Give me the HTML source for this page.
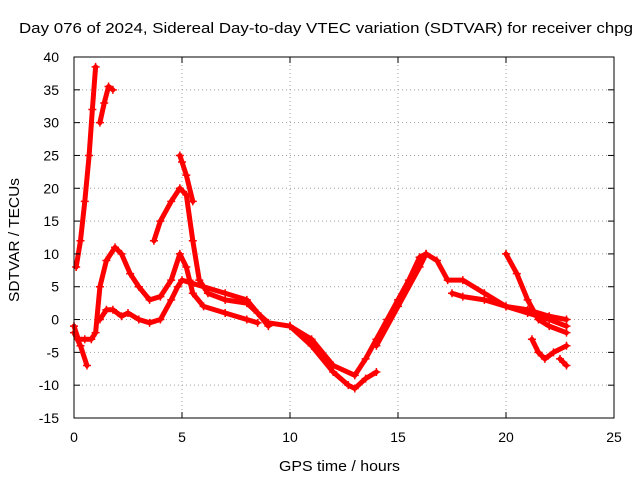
<!DOCTYPE html>
<html><head><meta charset="utf-8"><style>
body{margin:0;background:#fff;}
svg{display:block;font-family:"Liberation Sans",sans-serif;}
</style></head><body>
<svg id="chart" width="640" height="480" viewBox="0 0 640 480">
<rect width="640" height="480" fill="#fff"/>
<text x="19" y="33" font-size="15" textLength="614" lengthAdjust="spacingAndGlyphs">Day 076 of 2024, Sidereal Day-to-day VTEC variation (SDTVAR) for receiver chpg</text>
<g id="grid"></g>
<g id="series"></g>
<rect x="74" y="57" width="540" height="361" fill="none" stroke="#000" stroke-width="1"/>
<g id="ticks"></g>
<text x="279" y="471" font-size="15" textLength="121" lengthAdjust="spacingAndGlyphs">GPS time / hours</text>
<text x="0" y="0" font-size="15" textLength="124" lengthAdjust="spacingAndGlyphs" transform="translate(19 302) rotate(-90)">SDTVAR / TECUs</text>
</svg>
<script>
const xTicks=[0,5,10,15,20,25];
const yTicks=[-15,-10,-5,0,5,10,15,20,25,30,35,40];
const trackA=[[0.1,8],[0.3,12],[0.5,18],[0.7,25],[0.85,32],[1.0,38.5]];
const trackB=[[1.2,30],[1.4,33],[1.6,35.5],[1.8,35]];
const trackC=[[0,-1],[0.2,-3],[0.5,-3],[0.8,-3],[1.0,-2],[1.2,5],[1.5,9],[1.9,11],[2.2,10],[2.6,7],[3,5],[3.5,3],[4,3.5],[4.5,6],[4.9,10],[5.2,8],[5.5,4],[6,2],[7,1],[8,0],[8.5,-0.5]];
const trackD=[[3.7,12],[4,15],[4.5,18],[4.9,20],[5.2,19],[5.5,12],[5.8,6],[6.2,4],[7,3],[8,2.5],[9,-0.5],[10,-1],[11,-3],[12,-7],[13,-8.5],[13.5,-6],[14,-3],[14.5,0],[15,3],[15.5,6],[16,9.5],[16.3,10]];
const trackE=[[0,-2],[0.3,-4],[0.6,-7]];
const trackF=[[1.2,0],[1.5,1.5],[1.8,1.5],[2.2,0.5],[2.5,1],[3,0],[3.5,-0.5],[4,0],[4.5,3],[4.8,5],[5,6],[5.5,5.5],[6,5],[7,4],[8,3],[8.5,1],[9,-1]];
const trackG=[[4.9,25],[5,24],[5.2,22],[5.5,18]];
const trackH=[[10,-1],[11,-4],[12,-8],[12.7,-10],[13,-10.5],[13.5,-9],[14,-8]];
const trackI=[[14,-4],[15,2],[16,8],[16.3,10],[16.8,9],[17.3,6],[18,6],[19,4],[20,2],[21,1],[22,0],[22.8,-1]];
const trackJ=[[17.5,4],[18,3.5],[19,3],[20,2],[21,1.5],[22,0.5],[22.8,0]];
const trackK=[[20,10],[20.5,7],[21,3],[21.5,0],[22,-1],[22.8,-2]];
const trackL=[[21.2,-3],[21.5,-5],[21.8,-6],[22.2,-5],[22.8,-4]];
const trackM=[[22.5,-6],[22.8,-7]];
const tracks=[trackA,trackB,trackC,trackD,trackE,trackF,trackG,trackH,trackI,trackJ,trackK,trackL,trackM];
const NS="http://www.w3.org/2000/svg";
const X0=74,X1=614,Y0=418,Y1=57;
function sx(v){return X0+(v-0)/(25-0)*(X1-X0);}
function sy(v){return Y0-(v+15)/(40+15)*(Y0-Y1);}
const grid=document.getElementById('grid'),ticks=document.getElementById('ticks'),ser=document.getElementById('series');
function mk(tag,attrs,parent){const e=document.createElementNS(NS,tag);for(const k in attrs)e.setAttribute(k,attrs[k]);parent.appendChild(e);return e;}
xTicks.forEach(t=>{
  const x=sx(t);
  if(t>0&&t<25){const g=mk('line',{x1:x,x2:x,y1:Y0,y2:Y1,stroke:'#a0a0a0','stroke-dasharray':'1,3'},grid);
  
  }
  mk('line',{x1:x,x2:x,y1:Y0,y2:Y0-6,stroke:'#000'},ticks);
  mk('line',{x1:x,x2:x,y1:Y1,y2:Y1+6,stroke:'#000'},ticks);
  const tx=mk('text',{x:x,y:Y0+24,'font-size':14,'text-anchor':'middle'},ticks);tx.textContent=t;
  
  
});
yTicks.forEach(t=>{
  const y=sy(t);
  if(t>-15&&t<40){const g=mk('line',{x1:X0,x2:X1,y1:y,y2:y,stroke:'#a0a0a0','stroke-dasharray':'1,3'},grid);
  
  }
  mk('line',{x1:X0,x2:X0+6,y1:y,y2:y,stroke:'#000'},ticks);
  mk('line',{x1:X1,x2:X1-6,y1:y,y2:y,stroke:'#000'},ticks);
  const tx=mk('text',{x:X0-15,y:y+5,'font-size':14,'text-anchor':'end'},ticks);tx.textContent=t;
  
  
});
tracks.forEach((tr,i)=>{
  const pl=mk('polyline',{points:tr.map(p=>sx(p[0])+','+sy(p[1])).join(' '),fill:'none',stroke:'#f00','stroke-width':5,'stroke-linejoin':'round','stroke-linecap':'round'},ser);
  
  
  tr.forEach(p=>{
    const x=sx(p[0]),y=sy(p[1]);
    const m=mk('path',{d:`M${x-4},${y}H${x+4}M${x},${y-4}V${y+4}`,stroke:'#f00','stroke-width':1.5},ser);
    
    
  });
});
</script>
</body></html>
